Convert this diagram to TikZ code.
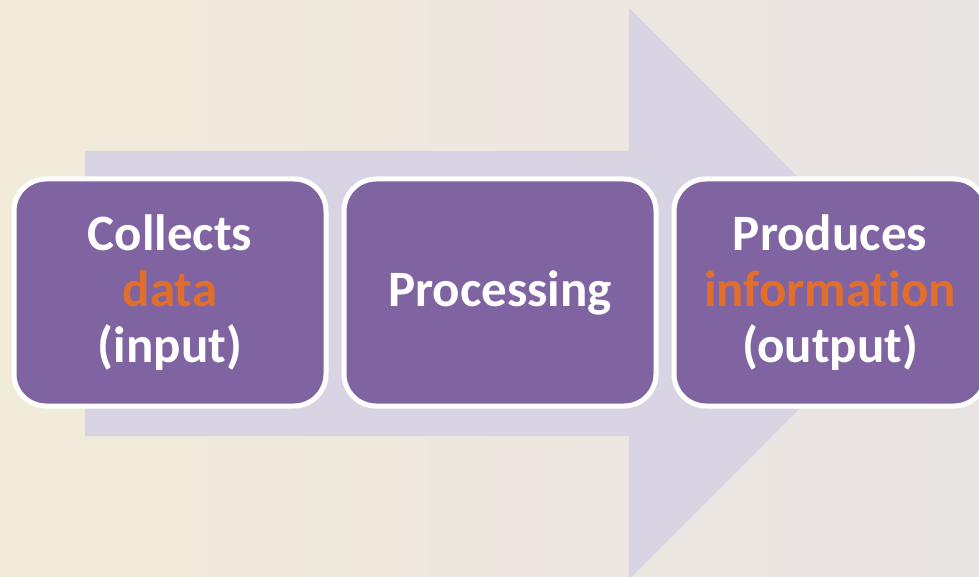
\documentclass[tikz,border=0pt]{standalone}
\usepackage{fontspec}
\setmainfont{Carlito}[Ligatures=NoCommon]
\usepackage{tikz}
\usetikzlibrary{
positioning,
backgrounds
}
\definecolor{boxpurple}{RGB}{128,100,162}
\definecolor{wordorange}{RGB}{226,110,44}
\definecolor{arrowlilac}{RGB}{216,212,228}
\definecolor{bgleft}{RGB}{241,235,217}
\definecolor{bgright}{RGB}{233,228,228}
\tikzset{
stepbox/.style={draw=white,line width=5pt,fill=boxpurple,rounded corners=32pt,
  minimum width=312pt,minimum height=227pt,align=center,text=white,
  font=\fontsize{51pt}{56pt}\selectfont\bfseries},
hl/.style={text=wordorange}
}

\begin{document}
\begin{tikzpicture}[x=1pt,y=-1pt,node distance=13pt]
      \useasboundingbox (0,0) rectangle (979,577);
      \shade[left color=bgleft,right color=bgright] (0,0) rectangle (979,577);
      \fill[arrowlilac] (85,151) -- (629,151) -- (629,8) -- (914.5,293.5)
         -- (629,579) -- (629,436) -- (85,436) -- cycle;
      \node[stepbox] (collect) at (170,292.5) {Collects\\ \textcolor{wordorange}{data}\\ (input)};
      \node[stepbox,right=of collect] (process) {Processing};
      \node[stepbox,right=of process] (produce) {Produces\\ \textcolor{wordorange}{information}\\ (output)};
\end{tikzpicture}
\end{document}
